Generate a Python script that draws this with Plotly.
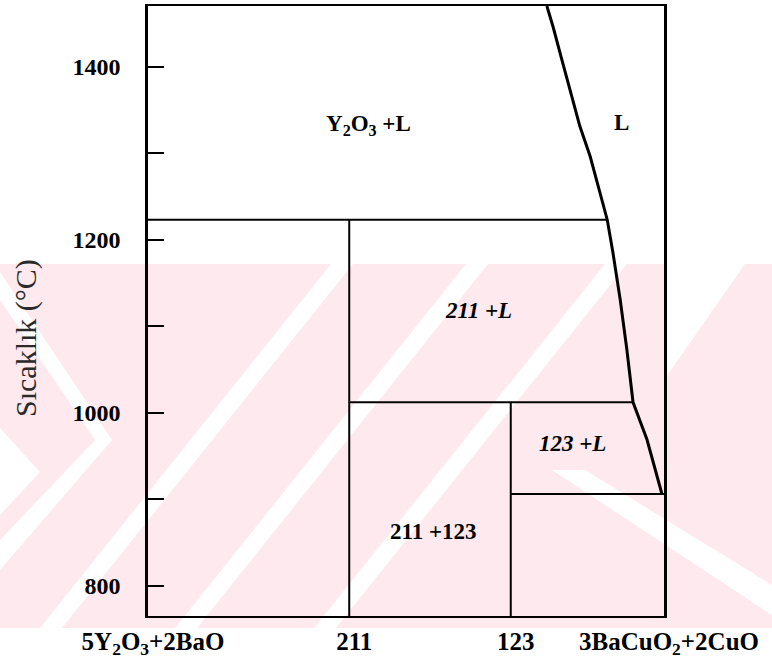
import plotly.graph_objects as go

# Composition axis (fraction from 5Y2O3+2BaO to 3BaCuO2+2CuO)
comp_ticks = [0.0, 0.39, 0.703, 1.0]
comp_labels = ["5Y<sub>2</sub>O<sub>3</sub>+2BaO", "211", "123", "3BaCuO<sub>2</sub>+2CuO"]

# Temperature axis
temp_ticks = [800, 900, 1000, 1100, 1200, 1300, 1400]
temp_labels = ["800", "", "1000", "", "1200", "", "1400"]
t_min, t_max = 765, 1470
y_title = "Sıcaklık (°C)"

# Invariant temperatures (°C)
t_y2o3_peritectic = 1223
t_211_peritectic = 1012
t_eutectic = 906

# Compositions of the line compounds
x_211 = 0.39
x_123 = 0.703

# Liquidus curve
liq_x = [0.773, 0.785, 0.802, 0.818, 0.837, 0.857, 0.876, 0.890, 0.901, 0.915, 0.928, 0.940, 0.967, 0.996]
liq_t = [1470, 1446, 1408, 1373, 1331, 1296, 1254, 1223, 1185, 1131, 1073, 1012, 969, 906]

# Phase-field labels
field_text = ["Y<sub>2</sub>O<sub>3</sub> +L", "L", "<i>211 +L</i>", "<i>123 +L</i>", "211 +123"]
field_x = [0.427, 0.918, 0.64, 0.822, 0.553]
field_t = [1333, 1335, 1118, 964, 863]

W, H = 772, 663
L_M, R_M, T_M, B_M = 148, 108, 6, 47
PW, PH = W - L_M - R_M, H - T_M - B_M


def px(x, y):
    """Pixel position on the page -> paper coordinates."""
    return (x - L_M) / PW, (H - B_M - y) / PH


def poly(points):
    parts = []
    for i, (x, y) in enumerate(points):
        u, v = px(x, y)
        parts.append(("M" if i == 0 else "L") + f"{u:.4f},{v:.4f}")
    return " ".join(parts) + " Z"


fig = go.Figure()

line_kw = dict(mode="lines", line=dict(color="black", width=2), hoverinfo="skip", showlegend=False)

fig.add_trace(go.Scatter(x=[0, liq_x[liq_t.index(t_y2o3_peritectic)]],
                         y=[t_y2o3_peritectic, t_y2o3_peritectic], **line_kw))
fig.add_trace(go.Scatter(x=[x_211, x_211], y=[t_y2o3_peritectic, t_min], **line_kw))
fig.add_trace(go.Scatter(x=[x_211, liq_x[liq_t.index(t_211_peritectic)]],
                         y=[t_211_peritectic, t_211_peritectic], **line_kw))
fig.add_trace(go.Scatter(x=[x_123, x_123], y=[t_211_peritectic, t_min], **line_kw))
fig.add_trace(go.Scatter(x=[x_123, 1.0], y=[t_eutectic, t_eutectic], **line_kw))
fig.add_trace(go.Scatter(x=liq_x, y=liq_t, mode="lines",
                         line=dict(color="black", width=3), hoverinfo="skip", showlegend=False))

for txt, x, t in zip(field_text, field_x, field_t):
    fig.add_annotation(x=x, y=t, text=f"<b>{txt}</b>", showarrow=False,
                       font=dict(family="Liberation Serif", size=23, color="black"))

# Rotated temperature title placed a little below the plot middle
tx, ty = px(26, 338)
fig.add_annotation(xref="paper", yref="paper", x=tx, y=ty, text=y_title, textangle=-90,
                   showarrow=False, xanchor="center", yanchor="middle",
                   font=dict(family="Liberation Serif", size=30, color="#2a2a2a"))

# Light pink watermark band with white diagonal gaps
pink = "#fde9ee"
band_top, band_bot = 264, 628
shapes = [dict(type="rect", xref="paper", yref="paper", layer="below",
               x0=px(0, 0)[0], x1=px(W, 0)[0], y0=px(0, band_bot)[1], y1=px(0, band_top)[1],
               fillcolor=pink, line=dict(width=0))]

white_gaps = [
    # chevron at the left edge
    [(0, 272), (0, 300), (95, 440), (112, 440)],
    [(112, 440), (95, 440), (0, 540), (0, 570)],
    [(0, 428), (40, 472), (0, 515)],
    # rising stripes across the middle
    [(40, 628), (62, 628), (353, 264), (331, 264)],
    [(175, 628), (197, 628), (488, 264), (466, 264)],
    [(314, 628), (336, 628), (627, 264), (605, 264)],
    # falling stripe and open corner at the right
    [(552, 470), (585, 470), (772, 585), (772, 615)],
    [(664, 264), (745, 264), (664, 380)],
]
for g in white_gaps:
    shapes.append(dict(type="path", xref="paper", yref="paper", layer="below",
                       path=poly(g), fillcolor="white", line=dict(width=0)))

fig.update_layout(
    width=W, height=H,
    margin=dict(l=L_M, r=R_M, t=T_M, b=B_M, autoexpand=False),
    paper_bgcolor="white", plot_bgcolor="rgba(0,0,0,0)",
    shapes=shapes,
    font=dict(family="Liberation Serif", color="black"),
    xaxis=dict(range=[0, 1], tickvals=comp_ticks, automargin=False,
               ticktext=[f"<b>{t}</b>" for t in comp_labels], ticks="",
               showgrid=False, zeroline=False, showline=True, linecolor="black",
               linewidth=2, mirror=True, ticklabelstandoff=2, ticklabelshift=5,
               tickfont=dict(family="Liberation Serif", size=25, color="black")),
    yaxis=dict(range=[t_min, t_max], tickvals=temp_ticks, automargin=False,
               ticktext=[f"<b>{t}</b>" if t else "" for t in temp_labels],
               ticks="inside", ticklen=16, tickwidth=2, tickcolor="black",
               showgrid=False, zeroline=False, showline=True, linecolor="black",
               linewidth=2.5, mirror=True, ticklabelstandoff=20,
               tickfont=dict(family="Liberation Serif", size=24, color="black")),
)

fig.write_html("out.html")
